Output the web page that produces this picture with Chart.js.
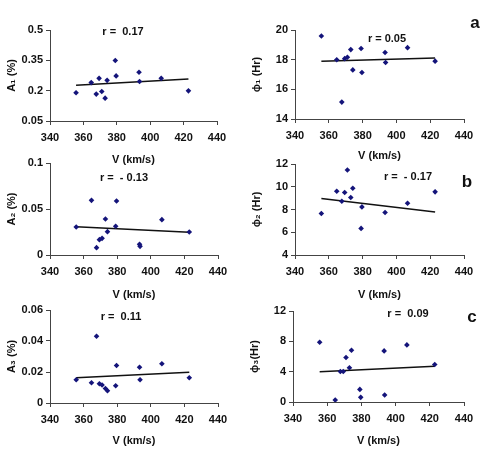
<!DOCTYPE html>
<html>
<head>
<meta charset="utf-8">
<script src="https://cdn.jsdelivr.net/npm/chart.js@4.4.0/dist/chart.umd.min.js"></script>
<style>
  body { margin:0; background:#fff; }
  #wrap { position:relative; width:487px; height:459px; overflow:hidden; font-family:"Liberation Sans", Arial, sans-serif; font-weight:bold; color:#111; }
  #wrap canvas { position:absolute; }
  .note { position:absolute; font-size:11px; white-space:pre; transform:translate(-50%,-50%); line-height:1; }
  .tag { position:absolute; font-size:17px; transform:translate(-50%,-50%); line-height:1; }
</style>
</head>
<body>
<div id="wrap"></div>
<script>
// solar wind speed of each event (km/s), shared by all six panels
var speed = [355.6, 364.7, 367.7, 369.4, 371.0, 373.0, 374.2, 379.1, 379.6, 393.3, 393.6, 406.6, 422.9];

// amplitudes (%) and phases (Hr) of the three harmonics
var amp1   = [0.19, 0.24, 0.183, 0.261, 0.196, 0.163, 0.251, 0.349, 0.273, 0.291, 0.245, 0.261, 0.199];
var phase1 = [19.6, 17.99, 15.14, 18.07, 18.16, 18.68, 17.31, 18.75, 17.13, 18.48, 17.81, 18.81, 17.9];
var amp2   = [0.0304, 0.0594, 0.008, 0.0167, 0.0181, 0.0391, 0.0254, 0.0312, 0.0587, 0.0116, 0.0094, 0.0384, 0.025];
var phase2 = [7.65, 9.61, 8.73, 9.49, 11.47, 9.05, 9.87, 6.34, 8.23, 7.74, null, 8.55, 9.55];
var amp3   = [0.015, 0.0131, 0.0431, 0.0124, 0.0116, 0.0094, 0.0079, 0.0111, 0.0242, 0.0231, 0.015, 0.0253, 0.0163];
var phase3 = [7.88, 0.26, 4.03, 4.03, 5.87, 4.51, 6.83, 1.66, 0.61, 6.74, 0.92, 7.53, 4.95];

// regression line ends
var fitSpeed  = [355.6, 422.9];
var amp1Fit   = [0.227, 0.258];
var phase1Fit = [17.9, 18.12];
var amp2Fit   = [0.0308, 0.0246];
var phase2Fit = [8.96, 7.77];
var amp3Fit   = [0.0163, 0.0199];
var phase3Fit = [4.0, 4.7];

// tick labels
var speedTicks  = [340, 360, 380, 400, 420, 440];
var amp1Ticks   = [0.05, 0.2, 0.35, 0.5];
var phase1Ticks = [14, 16, 18, 20];
var amp2Ticks   = [0, 0.05, 0.1];
var phase2Ticks = [4, 6, 8, 10, 12];
var amp3Ticks   = [0, 0.02, 0.04, 0.06];
var phase3Ticks = [0, 4, 8, 12];

var rTexts = ['r =  0.17', 'r = 0.05', 'r =  - 0.13', 'r =  - 0.17', 'r =  0.11', 'r =  0.09'];
var rowTags = ['a', 'b', 'c'];

var panels = [
  {vals: amp1,   fit: amp1Fit,   ticks: amp1Ticks,   label: 'A\u2081 (%)',        box: [50, 30, 217, 121],  gap: 38.5, note: [123, 31]},
  {vals: phase1, fit: phase1Fit, ticks: phase1Ticks, label: '\u03D5\u2081 (Hr)', box: [295, 30, 464, 119], gap: 36.5, note: [387, 38]},
  {vals: amp2,   fit: amp2Fit,   ticks: amp2Ticks,   label: 'A\u2082 (%)',        box: [50, 163, 218, 255], gap: 39.5, note: [124, 177]},
  {vals: phase2, fit: phase2Fit, ticks: phase2Ticks, label: '\u03D5\u2082 (Hr)', box: [295, 164, 464, 255], gap: 39.5, note: [408, 176]},
  {vals: amp3,   fit: amp3Fit,   ticks: amp3Ticks,   label: 'A\u2083 (%)',        box: [50, 310, 218, 403], gap: 37.5, note: [121, 316]},
  {vals: phase3, fit: phase3Fit, ticks: phase3Ticks, label: '\u03D5\u2083(Hr)',  box: [293, 311, 464, 402], gap: 38.5, note: [408, 313]}
];
var tagPos = [[475, 22], [467, 181], [472, 316]];

Chart.defaults.font.family = '"Liberation Sans", Arial, sans-serif';
Chart.defaults.color = '#111';

var wrap = document.getElementById('wrap');
var padTop = 10, padRight = 16, yWidth = 50, xHeight = 48;

function axisStyle(){
  return {
    grid: {drawOnChartArea: false, drawTicks: true, tickLength: 4, color: '#444'},
    border: {display: true, color: '#444', width: 1}
  };
}

panels.forEach(function(p, k){
  var plotW = p.box[2] - p.box[0], plotH = p.box[3] - p.box[1];
  var canvas = document.createElement('canvas');
  canvas.width = yWidth + plotW + padRight;
  canvas.height = padTop + plotH + xHeight;
  canvas.style.left = (p.box[0] - yWidth) + 'px';
  canvas.style.top = (p.box[1] - padTop) + 'px';
  wrap.appendChild(canvas);

  var points = [];
  speed.forEach(function(v, i){
    if(p.vals[i] !== null) points.push({x: v, y: p.vals[i]});
  });
  var line = fitSpeed.map(function(v, i){ return {x: v, y: p.fit[i]}; });

  var xs = axisStyle(), ys = axisStyle();
  new Chart(canvas, {
    type: 'scatter',
    data: {
      datasets: [{
        data: points,
        pointStyle: 'rectRot',
        pointRadius: 2.8,
        backgroundColor: '#14147a',
        borderColor: '#14147a',
        borderWidth: 0,
        order: 0
      }, {
        data: line,
        showLine: true,
        pointRadius: 0,
        borderColor: '#111',
        borderWidth: 1.5,
        order: 1
      }]
    },
    options: {
      responsive: false,
      animation: false,
      layout: {padding: {top: padTop, right: padRight, left: 0, bottom: 0}},
      plugins: {legend: {display: false}, tooltip: {enabled: false}},
      scales: {
        x: {
          type: 'linear', min: 340, max: 440,
          afterBuildTicks: function(s){ s.ticks = speedTicks.map(function(v){ return {value: v}; }); },
          afterFit: function(s){ s.height = xHeight; },
          grid: xs.grid, border: xs.border,
          ticks: {font: {size: 11, weight: 'bold'}, padding: 6, callback: function(v){ return String(v); }},
          title: {display: true, text: 'V (km/s)', font: {size: 11, weight: 'bold'},
                  padding: {top: 0, bottom: xHeight - 6.6 - p.gap}}
        },
        y: {
          type: 'linear', min: p.ticks[0], max: p.ticks[p.ticks.length - 1],
          afterBuildTicks: function(s){ s.ticks = p.ticks.map(function(v){ return {value: v}; }); },
          afterFit: function(s){ s.width = yWidth; },
          grid: ys.grid, border: ys.border,
          ticks: {font: {size: 11, weight: 'bold'}, padding: 3, callback: function(v){ return String(v); }},
          title: {display: true, text: p.label, font: {size: 11, weight: 'bold'}, padding: {top: 5, bottom: 0}}
        }
      }
    }
  });

  var note = document.createElement('div');
  note.className = 'note';
  note.textContent = rTexts[k];
  note.style.left = p.note[0] + 'px';
  note.style.top = p.note[1] + 'px';
  wrap.appendChild(note);
});

rowTags.forEach(function(t, i){
  var d = document.createElement('div');
  d.className = 'tag';
  d.textContent = t;
  d.style.left = tagPos[i][0] + 'px';
  d.style.top = tagPos[i][1] + 'px';
  wrap.appendChild(d);
});
</script>
</body>
</html>
